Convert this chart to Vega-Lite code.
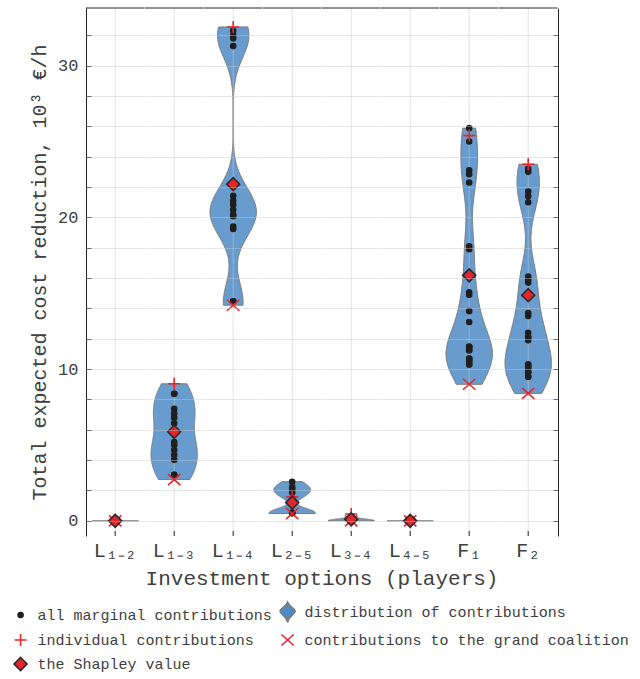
{
  "$schema": "https://vega.github.io/schema/vega-lite/v6.json",
  "padding": {"left": 9, "top": 7, "right": 6, "bottom": 2},
  "background": "white",
  "bounds": "flush",
  "data": {"values": [
    {"p": "L₁₋₂", "k": "m", "v": 0}, {"p": "L₁₋₂", "k": "m", "v": 0}, {"p": "L₁₋₂", "k": "m", "v": 0}, {"p": "L₁₋₂", "k": "m", "v": 0},
    {"p": "L₁₋₂", "k": "i", "v": 0}, {"p": "L₁₋₂", "k": "g", "v": 0}, {"p": "L₁₋₂", "k": "s", "v": 0},
    {"p": "L₁₋₃", "k": "m", "v": 8.38}, {"p": "L₁₋₃", "k": "m", "v": 8.38}, {"p": "L₁₋₃", "k": "m", "v": 7.39}, {"p": "L₁₋₃", "k": "m", "v": 7.08},
    {"p": "L₁₋₃", "k": "m", "v": 6.80}, {"p": "L₁₋₃", "k": "m", "v": 6.43}, {"p": "L₁₋₃", "k": "m", "v": 5.20}, {"p": "L₁₋₃", "k": "m", "v": 5.00},
    {"p": "L₁₋₃", "k": "m", "v": 4.67}, {"p": "L₁₋₃", "k": "m", "v": 4.34}, {"p": "L₁₋₃", "k": "m", "v": 4.03}, {"p": "L₁₋₃", "k": "m", "v": 3.03},
    {"p": "L₁₋₃", "k": "m", "v": 3.03},
    {"p": "L₁₋₃", "k": "i", "v": 9.03}, {"p": "L₁₋₃", "k": "g", "v": 2.72}, {"p": "L₁₋₃", "k": "s", "v": 5.87},
    {"p": "L₁₋₄", "k": "m", "v": 32.30}, {"p": "L₁₋₄", "k": "m", "v": 32.00}, {"p": "L₁₋₄", "k": "m", "v": 31.80}, {"p": "L₁₋₄", "k": "m", "v": 31.30},
    {"p": "L₁₋₄", "k": "m", "v": 21.43}, {"p": "L₁₋₄", "k": "m", "v": 21.10}, {"p": "L₁₋₄", "k": "m", "v": 20.83}, {"p": "L₁₋₄", "k": "m", "v": 20.50},
    {"p": "L₁₋₄", "k": "m", "v": 20.18}, {"p": "L₁₋₄", "k": "m", "v": 20.07}, {"p": "L₁₋₄", "k": "m", "v": 19.39}, {"p": "L₁₋₄", "k": "m", "v": 19.23},
    {"p": "L₁₋₄", "k": "m", "v": 14.47}, {"p": "L₁₋₄", "k": "m", "v": 14.47},
    {"p": "L₁₋₄", "k": "i", "v": 32.55}, {"p": "L₁₋₄", "k": "g", "v": 14.21}, {"p": "L₁₋₄", "k": "s", "v": 22.19},
    {"p": "L₂₋₅", "k": "m", "v": 2.58}, {"p": "L₂₋₅", "k": "m", "v": 2.22}, {"p": "L₂₋₅", "k": "m", "v": 2.08}, {"p": "L₂₋₅", "k": "m", "v": 1.86},
    {"p": "L₂₋₅", "k": "m", "v": 0.55}, {"p": "L₂₋₅", "k": "m", "v": 0.52}, {"p": "L₂₋₅", "k": "m", "v": 0.50},
    {"p": "L₂₋₅", "k": "i", "v": 1.58}, {"p": "L₂₋₅", "k": "g", "v": 0.48}, {"p": "L₂₋₅", "k": "s", "v": 1.20},
    {"p": "L₃₋₄", "k": "m", "v": 0}, {"p": "L₃₋₄", "k": "m", "v": 0}, {"p": "L₃₋₄", "k": "m", "v": 0}, {"p": "L₃₋₄", "k": "m", "v": 0},
    {"p": "L₃₋₄", "k": "m", "v": 0}, {"p": "L₃₋₄", "k": "m", "v": 0.02},
    {"p": "L₃₋₄", "k": "i", "v": 0.45}, {"p": "L₃₋₄", "k": "g", "v": 0}, {"p": "L₃₋₄", "k": "s", "v": 0.10},
    {"p": "L₄₋₅", "k": "m", "v": 0}, {"p": "L₄₋₅", "k": "m", "v": 0}, {"p": "L₄₋₅", "k": "m", "v": 0}, {"p": "L₄₋₅", "k": "m", "v": 0},
    {"p": "L₄₋₅", "k": "i", "v": 0}, {"p": "L₄₋₅", "k": "g", "v": 0}, {"p": "L₄₋₅", "k": "s", "v": 0},
    {"p": "F₁", "k": "m", "v": 25.88}, {"p": "F₁", "k": "m", "v": 25.00}, {"p": "F₁", "k": "m", "v": 23.10}, {"p": "F₁", "k": "m", "v": 22.85},
    {"p": "F₁", "k": "m", "v": 22.30}, {"p": "F₁", "k": "m", "v": 18.10}, {"p": "F₁", "k": "m", "v": 17.90}, {"p": "F₁", "k": "m", "v": 15.07},
    {"p": "F₁", "k": "m", "v": 14.90}, {"p": "F₁", "k": "m", "v": 13.82}, {"p": "F₁", "k": "m", "v": 13.10}, {"p": "F₁", "k": "m", "v": 11.47},
    {"p": "F₁", "k": "m", "v": 11.25}, {"p": "F₁", "k": "m", "v": 10.70}, {"p": "F₁", "k": "m", "v": 10.53}, {"p": "F₁", "k": "m", "v": 10.31},
    {"p": "F₁", "k": "m", "v": 11.47}, {"p": "F₁", "k": "m", "v": 10.70}, {"p": "F₁", "k": "m", "v": 10.31},
    {"p": "F₁", "k": "m", "v": 11.25}, {"p": "F₁", "k": "m", "v": 10.53}, {"p": "F₁", "k": "m", "v": 11.47},
    {"p": "F₁", "k": "i", "v": 25.39}, {"p": "F₁", "k": "g", "v": 9.00}, {"p": "F₁", "k": "s", "v": 16.18},
    {"p": "F₂", "k": "m", "v": 23.20}, {"p": "F₂", "k": "m", "v": 23.00}, {"p": "F₂", "k": "m", "v": 21.70}, {"p": "F₂", "k": "m", "v": 21.40},
    {"p": "F₂", "k": "m", "v": 21.00}, {"p": "F₂", "k": "m", "v": 16.10}, {"p": "F₂", "k": "m", "v": 15.90}, {"p": "F₂", "k": "m", "v": 15.70},
    {"p": "F₂", "k": "m", "v": 13.70}, {"p": "F₂", "k": "m", "v": 13.50}, {"p": "F₂", "k": "m", "v": 12.40}, {"p": "F₂", "k": "m", "v": 12.10},
    {"p": "F₂", "k": "m", "v": 11.90}, {"p": "F₂", "k": "m", "v": 10.30}, {"p": "F₂", "k": "m", "v": 10.10}, {"p": "F₂", "k": "m", "v": 9.80},
    {"p": "F₂", "k": "m", "v": 9.50}, {"p": "F₂", "k": "m", "v": 10.10}, {"p": "F₂", "k": "m", "v": 9.80},
    {"p": "F₂", "k": "m", "v": 10.30}, {"p": "F₂", "k": "m", "v": 9.50}, {"p": "F₂", "k": "m", "v": 12.10},
    {"p": "F₂", "k": "i", "v": 23.50}, {"p": "F₂", "k": "g", "v": 8.40}, {"p": "F₂", "k": "s", "v": 14.87}
  ]},
  "facet": {
    "column": {
      "field": "p", "type": "nominal",
      "sort": ["L₁₋₂", "L₁₋₃", "L₁₋₄", "L₂₋₅", "L₃₋₄", "L₄₋₅", "F₁", "F₂"],
      "title": "Investment options (players)",
      "header": {"labelOrient": "bottom", "titleOrient": "bottom"}
    }
  },
  "spacing": 0,
  "resolve": {"scale": {"x": "independent"}},
  "spec": {
    "width": 58.4,
    "height": 528,
    "resolve": {"axis": {"y": "independent"}},
    "layer": [
      {
        "transform": [{"filter": "datum.p === 'L₁₋₂' && datum.k !== 's'"}, {"density": "v", "groupby": ["p"], "bandwidth": 0.3, "as": ["value", "density"]}],
        "mark": {"type": "area", "orient": "horizontal", "fillOpacity": 0.85, "strokeWidth": 1},
        "encoding": {
          "y": {"field": "value", "type": "quantitative", "scale": {"domain": [-1, 33.8], "nice": false, "zero": false},
            "axis": {"title": "Total expected cost reduction, 10³ €/h", "values": [0, 2, 4, 6, 8, 10, 12, 14, 16, 18, 20, 22, 24, 26, 28, 30, 32],
              "labelExpr": "datum.value % 10 === 0 ? datum.label : ''", "labelOverlap": false, "labelFontSize": 17, "titleFontSize": 20,
              "tickSize": -5, "labelPadding": 13, "titlePadding": 8, "grid": true, "gridColor": "#c8c8c8", "gridOpacity": 0.45, "zindex": 1}},
          "x": {"field": "density", "type": "quantitative", "stack": "center", "impute": null, "scale": {"zero": false, "nice": false, "padding": 6},
            "axis": {"title": null, "labels": false, "ticks": false, "grid": false, "domain": true}},
          "fill": {"datum": "d", "type": "nominal", "scale": {"domain": ["m", "d", "i", "g", "s"], "range": ["#1f1f1f", "#4d8bc6", "transparent", "transparent", "#e4262c"]}},
          "stroke": {"datum": "d", "type": "nominal", "scale": {"domain": ["m", "d", "i", "g", "s"], "range": ["#1f1f1f", "#7a7a7a", "#e4262c", "#e4262c", "#2a2a2a"]}}
        }
      },
      {
        "transform": [{"filter": "datum.p === 'L₁₋₃' && datum.k !== 's'"}, {"density": "v", "groupby": ["p"], "bandwidth": 1.05, "as": ["value", "density"]}],
        "mark": {"type": "area", "orient": "horizontal", "fillOpacity": 0.85, "strokeWidth": 1},
        "encoding": {
          "y": {"field": "value", "type": "quantitative", "axis": null},
          "x": {"field": "density", "type": "quantitative", "stack": "center", "impute": null, "axis": null},
          "fill": {"datum": "d", "type": "nominal"},
          "stroke": {"datum": "d", "type": "nominal"}
        }
      },
      {
        "transform": [{"filter": "datum.p === 'L₁₋₄' && datum.k !== 's'"}, {"density": "v", "groupby": ["p"], "bandwidth": 1.4, "as": ["value", "density"]}],
        "mark": {"type": "area", "orient": "horizontal", "fillOpacity": 0.85, "strokeWidth": 1},
        "encoding": {
          "y": {"field": "value", "type": "quantitative", "axis": null},
          "x": {"field": "density", "type": "quantitative", "stack": "center", "impute": null, "axis": null},
          "fill": {"datum": "d", "type": "nominal"},
          "stroke": {"datum": "d", "type": "nominal"}
        }
      },
      {
        "transform": [{"filter": "datum.p === 'L₂₋₅' && datum.k !== 's'"}, {"density": "v", "groupby": ["p"], "bandwidth": 0.3, "as": ["value", "density"]}],
        "mark": {"type": "area", "orient": "horizontal", "fillOpacity": 0.85, "strokeWidth": 1},
        "encoding": {
          "y": {"field": "value", "type": "quantitative", "axis": null},
          "x": {"field": "density", "type": "quantitative", "stack": "center", "impute": null, "axis": null},
          "fill": {"datum": "d", "type": "nominal"},
          "stroke": {"datum": "d", "type": "nominal"}
        }
      },
      {
        "transform": [{"filter": "datum.p === 'L₃₋₄' && datum.k !== 's'"}, {"density": "v", "groupby": ["p"], "bandwidth": 0.12, "as": ["value", "density"]}],
        "mark": {"type": "area", "orient": "horizontal", "fillOpacity": 0.85, "strokeWidth": 1},
        "encoding": {
          "y": {"field": "value", "type": "quantitative", "axis": null},
          "x": {"field": "density", "type": "quantitative", "stack": "center", "impute": null, "axis": null},
          "fill": {"datum": "d", "type": "nominal"},
          "stroke": {"datum": "d", "type": "nominal"}
        }
      },
      {
        "transform": [{"filter": "datum.p === 'L₄₋₅' && datum.k !== 's'"}, {"density": "v", "groupby": ["p"], "bandwidth": 0.3, "as": ["value", "density"]}],
        "mark": {"type": "area", "orient": "horizontal", "fillOpacity": 0.85, "strokeWidth": 1},
        "encoding": {
          "y": {"field": "value", "type": "quantitative", "axis": null},
          "x": {"field": "density", "type": "quantitative", "stack": "center", "impute": null, "axis": null},
          "fill": {"datum": "d", "type": "nominal"},
          "stroke": {"datum": "d", "type": "nominal"}
        }
      },
      {
        "transform": [{"filter": "datum.p === 'F₁' && datum.k !== 's'"}, {"density": "v", "groupby": ["p"], "bandwidth": 1.6, "as": ["value", "density"]}],
        "mark": {"type": "area", "orient": "horizontal", "fillOpacity": 0.85, "strokeWidth": 1},
        "encoding": {
          "y": {"field": "value", "type": "quantitative", "axis": null},
          "x": {"field": "density", "type": "quantitative", "stack": "center", "impute": null, "axis": null},
          "fill": {"datum": "d", "type": "nominal"},
          "stroke": {"datum": "d", "type": "nominal"}
        }
      },
      {
        "transform": [{"filter": "datum.p === 'F₂' && datum.k !== 's'"}, {"density": "v", "groupby": ["p"], "bandwidth": 1.5, "as": ["value", "density"]}],
        "mark": {"type": "area", "orient": "horizontal", "fillOpacity": 0.85, "strokeWidth": 1},
        "encoding": {
          "y": {"field": "value", "type": "quantitative", "axis": null},
          "x": {"field": "density", "type": "quantitative", "stack": "center", "impute": null, "axis": null},
          "fill": {"datum": "d", "type": "nominal"},
          "stroke": {"datum": "d", "type": "nominal"}
        }
      },
      {
        "transform": [{"filter": "datum.k === 's'"}],
        "mark": {"type": "rule", "color": "#c8c8c8", "opacity": 0.5, "strokeWidth": 1},
        "encoding": {
          "y": {"datum": -1, "type": "quantitative", "axis": null},
          "y2": {"datum": 33.8}
        }
      },
      {
        "transform": [{"filter": "datum.k === 's'"}],
        "mark": {"type": "rule", "color": "#262626", "strokeWidth": 1},
        "encoding": {
          "y": {"datum": -1, "type": "quantitative", "axis": null},
          "y2": {"datum": -0.67}
        }
      },
      {
        "transform": [{"filter": "datum.k === 's'"}],
        "mark": {"type": "rule", "color": "#262626", "strokeWidth": 1},
        "encoding": {
          "y": {"datum": 33.8, "type": "quantitative",
            "axis": {"orient": "right", "title": null, "labels": false, "values": [0, 2, 4, 6, 8, 10, 12, 14, 16, 18, 20, 22, 24, 26, 28, 30, 32], "tickSize": -5, "grid": false, "domain": true}}
        }
      },
      {
        "mark": {"type": "point", "size": 400, "strokeWidth": 1.6, "opacity": 1},
        "encoding": {
          "y": {"field": "v", "type": "quantitative", "axis": null},
          "shape": {"field": "k", "type": "nominal", "scale": {"domain": ["m", "d", "i", "g", "s"], "range": [
            "M-0.25,0A0.25,0.25 0 1,0 0.25,0A0.25,0.25 0 1,0 -0.25,0Z",
            "M0,-1C0.15,-0.6 0.75,-0.4 0.75,-0.12C0.75,0.15 0.12,0.3 0,1C-0.12,0.3 -0.75,0.15 -0.75,-0.12C-0.75,-0.4 -0.15,-0.6 0,-1Z",
            "M-0.6,0L0.6,0M0,-0.6L0,0.6",
            "M-0.62,-0.55L0.62,0.55M-0.62,0.55L0.62,-0.55",
            "M0,-0.65L0.65,0L0,0.65L-0.65,0Z"]}},
          "fill": {"field": "k", "type": "nominal", "scale": {"domain": ["m", "d", "i", "g", "s"], "range": ["#1f1f1f", "#4d8bc6", "transparent", "transparent", "#e4262c"]},
            "legend": {"title": null, "orient": "none", "legendX": -76.4, "legendY": 593, "direction": "horizontal", "columns": 2, "symbolSize": 400, "symbolStrokeWidth": 1.6,
              "labelExpr": "datum.value === 'm' ? 'all marginal contributions' : datum.value === 'd' ? 'distribution of contributions' : datum.value === 'i' ? 'individual contributions' : datum.value === 'g' ? 'contributions to the grand coalition' : 'the Shapley value'"}},
          "stroke": {"field": "k", "type": "nominal", "scale": {"domain": ["m", "d", "i", "g", "s"], "range": ["#1f1f1f", "#7a7a7a", "#e4262c", "#e4262c", "#2a2a2a"]}}
        }
      }
    ]
  },
  "config": {
    "view": {"stroke": null},
    "font": "Liberation Mono",
    "axis": {"labelFont": "Liberation Mono", "titleFont": "Liberation Mono", "labelColor": "#404040", "titleColor": "#404040", "titleFontWeight": "normal", "domainColor": "#262626", "tickColor": "#262626"},
    "header": {"labelFont": "Liberation Mono", "labelFontSize": 20, "labelColor": "#404040", "labelPadding": 5, "titleFont": "Liberation Mono", "titleFontSize": 21, "titleFontWeight": "normal", "titleColor": "#404040", "titlePadding": -3},
    "legend": {"labelFont": "Liberation Mono", "labelFontSize": 15, "labelColor": "#404040", "rowPadding": 3, "columnPadding": 4, "labelOffset": 6, "labelLimit": 400}
  }
}
